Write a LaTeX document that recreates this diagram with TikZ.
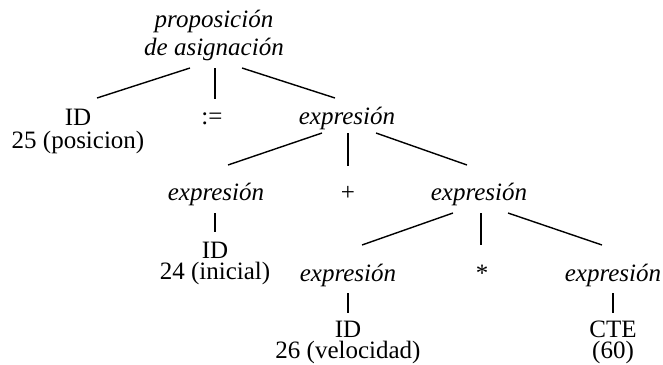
\documentclass[tikz,border=0pt]{standalone}
\usepackage{fontspec}
\setmainfont{Liberation Serif}
\usepackage{tikz}

\begin{document}
\begin{tikzpicture}[
    x=1pt, y=-1pt,
    sym/.style={inner sep=0pt, anchor=base, align=center,
                font=\fontsize{25}{21}\selectfont},
    nterm/.style={sym, font=\fontsize{25}{28}\selectfont\itshape},
    branch/.style={line width=1.4pt},
    stem/.style={line width=2.6pt}
]
\useasboundingbox (0,0) rectangle (663,364);

% nodes, placed at the baseline of their last line
\node[nterm] (root) at (214,55) {proposición\\de asignación};
\node[sym] (id1) at (78,148) {ID\\[2pt]25 (posicion)};
\node[sym] (asg) at (212,124) {:=};
\node[nterm] (e1) at (347,124) {expresión};
\node[nterm] (e2) at (216,200) {expresión};
\node[sym] (plus) at (348,200) {+};
\node[nterm] (e3) at (479,200) {expresión};
\node[sym] (id2) at (215,279) {ID\\24 (inicial)};
\node[nterm] (e4) at (348,281) {expresión};
\node[sym] (times) at (482,281) {*};
\node[nterm] (e5) at (613,281) {expresión};
\node[sym] (id3) at (348,358) {ID\\26 (velocidad)};
\node[sym] (cte) at (613,358) {CTE\\(60)};

% branches
\draw[branch] ([xshift=-24pt,yshift=-13pt]root.base) -- ([xshift=19pt,yshift=50pt]id1.base);
\draw[stem] ([xshift=1pt,yshift=-13pt]root.base) -- ([xshift=3pt,yshift=25pt]asg.base);
\draw[branch] ([xshift=28pt,yshift=-13pt]root.base) -- ([xshift=-12pt,yshift=26pt]e1.base);

\draw[branch] ([xshift=-25pt,yshift=-9pt]e1.base) -- ([xshift=12pt,yshift=35pt]e2.base);
\draw[stem] ([xshift=1pt,yshift=-9pt]e1.base) -- ([yshift=34pt]plus.base);
\draw[branch] ([xshift=29pt,yshift=-9pt]e1.base) -- ([xshift=-12pt,yshift=35pt]e3.base);

\draw[stem] ([xshift=-1pt,yshift=-13pt]e2.base) -- ([yshift=47pt]id2.base);

\draw[branch] ([xshift=-26pt,yshift=-13pt]e3.base) -- ([xshift=14pt,yshift=36pt]e4.base);
\draw[stem] ([xshift=2pt,yshift=-13pt]e3.base) -- ([xshift=-1pt,yshift=36pt]times.base);
\draw[branch] ([xshift=29pt,yshift=-13pt]e3.base) -- ([xshift=-11pt,yshift=36pt]e5.base);

\draw[stem] ([yshift=-12pt]e4.base) -- ([yshift=45pt]id3.base);
\draw[stem] ([yshift=-12pt]e5.base) -- ([yshift=45pt]cte.base);
\end{tikzpicture}
\end{document}
